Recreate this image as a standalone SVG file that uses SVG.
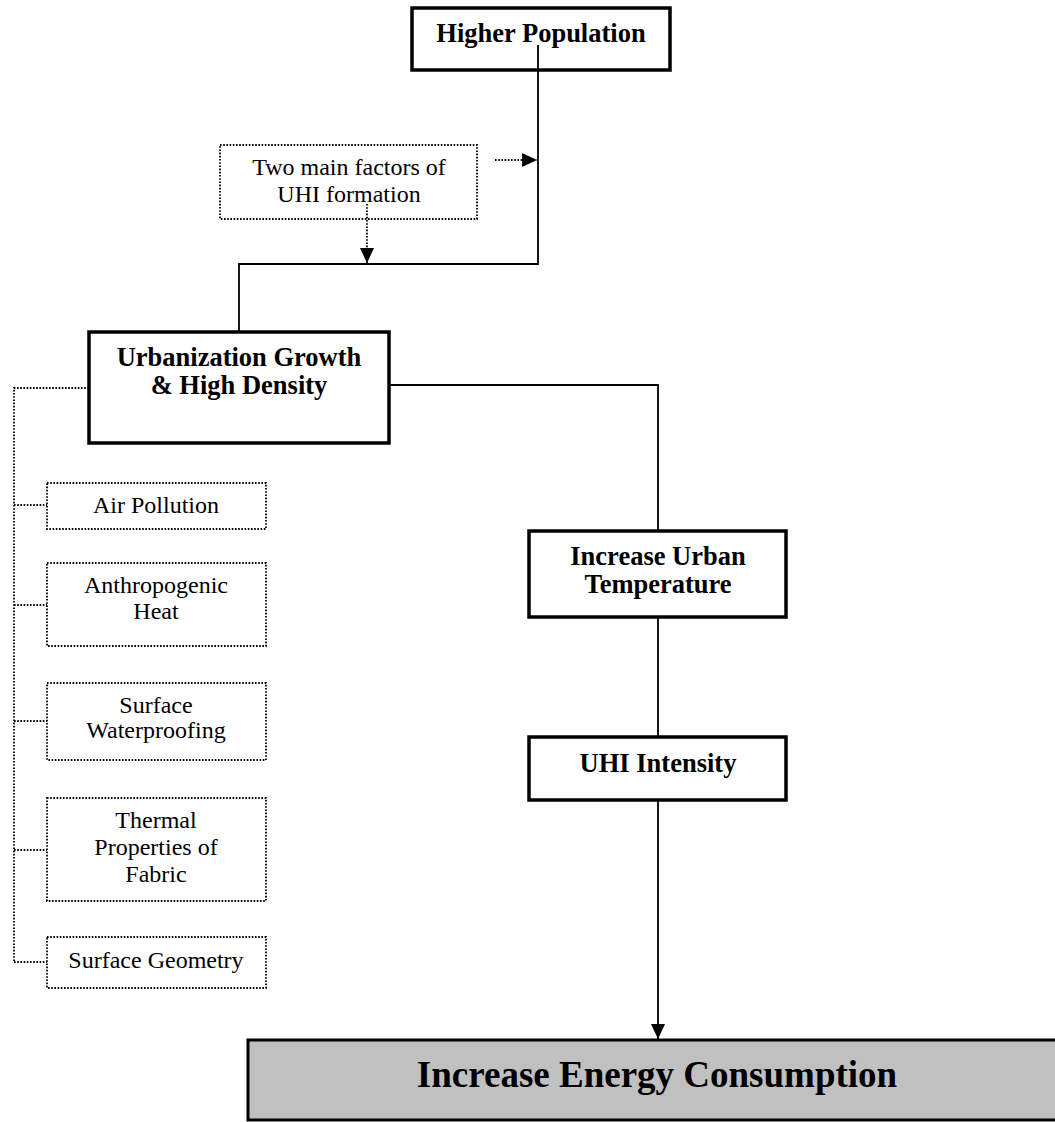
<svg xmlns="http://www.w3.org/2000/svg" width="1055" height="1122" viewBox="0 0 1055 1122">
  <style>
    .box { fill: #ffffff; stroke: #000000; stroke-width: 3.5; }
    .dbox { fill: #ffffff; stroke: #000000; stroke-width: 1.8; stroke-dasharray: 1.6 1.6; }
    .wire { fill: none; stroke: #000000; stroke-width: 1.8; }
    .dwire { fill: none; stroke: #000000; stroke-width: 1.8; stroke-dasharray: 1.6 1.6; }
    .bold { font-family: "Liberation Serif", "Times New Roman", serif; font-weight: bold; font-size: 26.5px; fill: #000000; text-anchor: middle; }
    .reg { font-family: "Liberation Serif", "Times New Roman", serif; font-size: 24px; fill: #000000; text-anchor: middle; }
    .big { font-family: "Liberation Serif", "Times New Roman", serif; font-weight: bold; font-size: 37px; fill: #000000; text-anchor: middle; }
  </style>
  <defs>
    <marker id="head" viewBox="0 0 15 14" refX="15" refY="7" markerWidth="15" markerHeight="14" markerUnits="userSpaceOnUse" orient="auto">
      <path d="M0,0 L15,7 L0,14 Z" fill="#000000"/>
    </marker>
  </defs>

  <rect width="1055" height="1122" fill="#ffffff"/>

  <!-- nodes -->
  <g id="higher-population">
    <rect class="box" x="412" y="8" width="258" height="62"/>
    <text class="bold" x="541" y="42">Higher Population</text>
  </g>

  <g id="uhi-factors">
    <rect class="dbox" x="220" y="145" width="257" height="74"/>
    <text class="reg" x="349" y="175">Two main factors of</text>
    <text class="reg" x="349" y="202">UHI formation</text>
  </g>

  <g id="urbanization">
    <rect class="box" x="89" y="332" width="300" height="111"/>
    <text class="bold" x="239" y="366">Urbanization Growth</text>
    <text class="bold" x="239" y="394">&amp; High Density</text>
  </g>

  <g id="air-pollution">
    <rect class="dbox" x="47" y="483" width="219" height="46"/>
    <text class="reg" x="156" y="513">Air Pollution</text>
  </g>

  <g id="anthropogenic-heat">
    <rect class="dbox" x="47" y="563" width="219" height="83"/>
    <text class="reg" x="156" y="593">Anthropogenic</text>
    <text class="reg" x="156" y="619">Heat</text>
  </g>

  <g id="surface-waterproofing">
    <rect class="dbox" x="47" y="683" width="219" height="77"/>
    <text class="reg" x="156" y="713">Surface</text>
    <text class="reg" x="156" y="738">Waterproofing</text>
  </g>

  <g id="thermal-properties">
    <rect class="dbox" x="47" y="798" width="219" height="103"/>
    <text class="reg" x="156" y="828">Thermal</text>
    <text class="reg" x="156" y="855">Properties of</text>
    <text class="reg" x="156" y="882">Fabric</text>
  </g>

  <g id="surface-geometry">
    <rect class="dbox" x="47" y="937" width="219" height="51"/>
    <text class="reg" x="156" y="968">Surface Geometry</text>
  </g>

  <g id="urban-temperature">
    <rect class="box" x="529" y="531" width="257" height="86"/>
    <text class="bold" x="658" y="565">Increase Urban</text>
    <text class="bold" x="658" y="593">Temperature</text>
  </g>

  <g id="uhi-intensity">
    <rect class="box" x="529" y="737" width="257" height="63"/>
    <text class="bold" x="658" y="772">UHI Intensity</text>
  </g>

  <g id="energy-consumption">
    <rect x="248" y="1040" width="830" height="80" fill="#c0c0c0" stroke="#000000" stroke-width="3"/>
    <text class="big" x="657" y="1087">Increase Energy Consumption</text>
  </g>

  <!-- connectors -->
  <g id="connectors">
    <polyline class="wire" points="538,45 538,264 239,264 239,332"/>
    <line class="dwire" x1="495" y1="160" x2="537" y2="160" marker-end="url(#head)"/>
    <line class="dwire" x1="367" y1="204" x2="367" y2="263" marker-end="url(#head)"/>
    <polyline class="wire" points="389,385 658,385 658,531"/>
    <line class="wire" x1="658" y1="617" x2="658" y2="737"/>
    <line class="wire" x1="658" y1="800" x2="658" y2="1039" marker-end="url(#head)"/>
    <polyline class="dwire" points="89,388 14,388 14,962"/>
    <line class="dwire" x1="14" y1="505" x2="47" y2="505"/>
    <line class="dwire" x1="14" y1="605" x2="47" y2="605"/>
    <line class="dwire" x1="14" y1="721" x2="47" y2="721"/>
    <line class="dwire" x1="14" y1="850" x2="47" y2="850"/>
    <line class="dwire" x1="14" y1="962" x2="47" y2="962"/>
  </g>
</svg>
